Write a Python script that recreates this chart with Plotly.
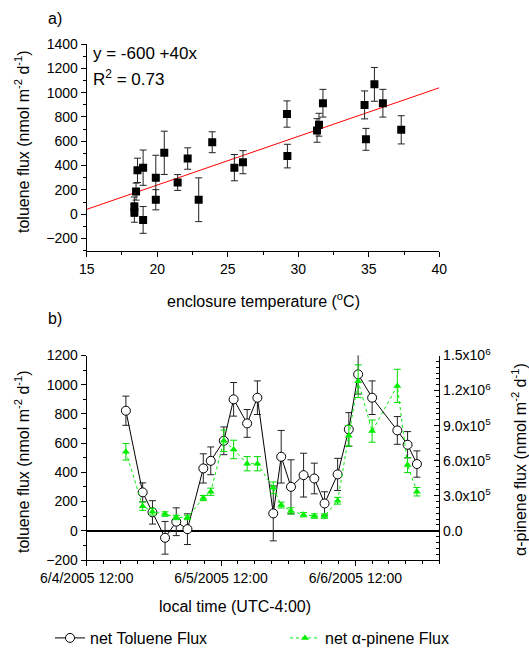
import plotly.graph_objects as go

# ---------------- Panel a) data ----------------
temp_c = [18.38, 18.38, 18.5, 18.6, 19.0, 19.0, 19.9, 19.9, 20.5, 21.45, 22.16, 22.94,
          23.9, 25.47, 26.08, 29.2, 29.23, 31.33, 31.47, 31.75, 34.7, 34.8, 35.4, 36.0, 37.3]
tol_flux_a = [62, 14, 186, 361, 383, -47, 300, 119, 505, 261, 458, 119,
              592, 383, 428, 824, 478, 689, 736, 913, 899, 616, 1068, 913, 694]
tol_err_a = [80, 80, 70, 100, 145, 110, 185, 83, 178, 65, 88, 180,
             86, 108, 95, 108, 97, 97, 94, 114, 115, 90, 139, 114, 116]
fit_intercept = -560
fit_slope = 40
fit_x_range = [15, 40]
fit_label = "y = -600 +40x"
r2_label = "R<sup>2</sup> = 0.73"

# ---------------- Panel b) data ----------------
times = ["2005-06-04 19:00", "2005-06-04 22:00", "2005-06-04 23:45", "2005-06-05 02:00",
         "2005-06-05 04:00", "2005-06-05 06:00", "2005-06-05 08:50", "2005-06-05 10:10",
         "2005-06-05 12:30", "2005-06-05 14:15", "2005-06-05 16:40", "2005-06-05 18:30",
         "2005-06-05 21:20", "2005-06-05 22:45", "2005-06-06 00:30", "2005-06-06 02:45",
         "2005-06-06 04:40", "2005-06-06 06:30", "2005-06-06 08:50", "2005-06-06 10:50",
         "2005-06-06 12:30", "2005-06-06 15:00", "2005-06-06 19:30", "2005-06-06 21:20",
         "2005-06-06 23:00"]
toluene = [822, 263, 126, -48, 62, 11, 427, 479, 616, 900, 735, 911, 119,
           507, 301, 381, 358, 187, 386, 694, 1071, 911, 687, 589, 457]
toluene_err = [100, 65, 80, 112, 95, 105, 100, 95, 95, 115, 95, 115, 188,
               180, 185, 150, 105, 80, 110, 115, 135, 115, 95, 90, 90]
pinene = [6.76e5, 2.11e5, 1.63e5, 1.43e5, 1.14e5, 1.14e5, 2.80e5, 3.34e5, 7.70e5,
          6.96e5, 5.74e5, 5.74e5, 3.68e5, 2.20e5, 1.70e5, 1.38e5, 1.26e5, 1.26e5,
          2.57e5, 8.13e5, 1.28e6, 8.53e5, 1.24e6, 5.62e5, 3.34e5]
pinene_err = [7.1e4, 3.6e4, 2.9e4, 1.9e4, 1.9e4, 1.9e4, 2.2e4, 3.1e4, 9.2e4,
              7.9e4, 6.1e4, 6.1e4, 5.0e4, 2.5e4, 2.7e4, 1.9e4, 1.9e4, 1.9e4,
              2.9e4, 8.9e4, 1.4e5, 9.5e4, 1.42e5, 6.4e4, 3.6e4]
time_tick_vals = ["2005-06-04 12:00", "2005-06-05 12:00", "2005-06-06 12:00"]
time_tick_text = ["6/4/2005 12:00", "6/5/2005 12:00", "6/6/2005 12:00"]
time_range = ["2005-06-04 12:00", "2005-06-07 03:00"]
pin_tick_vals = [0, 3e5, 6e5, 9e5, 1.2e6, 1.5e6]
pin_tick_text = ["0.0", "3.0x10<sup>5</sup>", "6.0x10<sup>5</sup>", "9.0x10<sup>5</sup>",
                 "1.2x10<sup>6</sup>", "1.5x10<sup>6</sup>"]

FONT = "Liberation Sans, Arial, sans-serif"
W, H = 529, 648

def px_x(p):
    return p / W

def px_y(p):
    return 1 - p / H

fig = go.Figure()

# panel a
fig.add_trace(go.Scatter(
    x=fit_x_range, y=[fit_intercept + fit_slope * v for v in fit_x_range],
    mode="lines", line=dict(color="#ff0000", width=1), showlegend=False,
    xaxis="x", yaxis="y"))
fig.add_trace(go.Scatter(
    x=temp_c, y=tol_flux_a, mode="markers",
    marker=dict(symbol="square", size=8, color="black"),
    error_y=dict(type="data", array=tol_err_a, color="#222", thickness=1, width=3.5),
    showlegend=False, xaxis="x", yaxis="y"))

# panel b
fig.add_trace(go.Scatter(
    x=times, y=toluene, mode="lines+markers", name="net Toluene Flux",
    line=dict(color="black", width=1),
    marker=dict(symbol="circle", size=9, color="white", line=dict(color="black", width=1)),
    error_y=dict(type="data", array=toluene_err, color="#222", thickness=1, width=3.5),
    xaxis="x2", yaxis="y2"))
fig.add_trace(go.Scatter(
    x=times, y=pinene, mode="lines+markers", name="net \u03b1-pinene Flux",
    line=dict(color="#00ee00", width=1, dash="dot"),
    marker=dict(symbol="triangle-up", size=7, color="#00ee00"),
    error_y=dict(type="data", array=pinene_err, color="#00dd00", thickness=1, width=3.5),
    xaxis="x2", yaxis="y3"))

dom_x = [px_x(86.7), px_x(439.3)]
tickfont = dict(family=FONT, size=14, color="black")
common = dict(showline=True, linecolor="black", linewidth=1, showgrid=False,
              zeroline=False, ticks="outside", ticklen=5, tickcolor="black",
              tickfont=tickfont, automargin=False)

fig.update_layout(
    width=W, height=H, autosize=False,
    margin=dict(l=0, r=0, t=0, b=0, pad=0, autoexpand=False),
    paper_bgcolor="white", plot_bgcolor="white",
    font=dict(family=FONT, color="black"),
    xaxis=dict(domain=dom_x, anchor="y", range=[15, 40], tickvals=[15, 20, 25, 30, 35, 40],
               minor=dict(dtick=2.5, ticks="outside", ticklen=3, tickcolor="black"),
               **common),
    yaxis=dict(domain=[px_y(250.7), px_y(44)], anchor="x", range=[-300, 1400],
               tickvals=[-200, 0, 200, 400, 600, 800, 1000, 1200, 1400],
               minor=dict(dtick=100, tick0=0, ticks="outside", ticklen=3, tickcolor="black"),
               **common),
    xaxis2=dict(domain=dom_x, anchor="y2", type="date", range=time_range,
                tickvals=time_tick_vals, ticktext=time_tick_text,
                minor=dict(dtick=3 * 3600 * 1000, tick0="2005-06-04 12:00", ticks="outside",
                           ticklen=3, tickcolor="black"),
                **common),
    yaxis2=dict(domain=[px_y(560), px_y(355.5)], anchor="x2", range=[-200, 1200],
                tickvals=[-200, 0, 200, 400, 600, 800, 1000, 1200],
                minor=dict(dtick=100, tick0=0, ticks="outside", ticklen=3, tickcolor="black"),
                showline=True, linecolor="black", linewidth=1, showgrid=False,
                zeroline=True, zerolinecolor="black", zerolinewidth=1.5,
                ticks="outside", ticklen=5, tickcolor="black", tickfont=tickfont,
                automargin=False),
    yaxis3=dict(overlaying="y2", side="right", anchor="x2", range=[-2.5e5, 1.5e6],
                tickvals=pin_tick_vals, ticktext=pin_tick_text,
                minor=dict(dtick=5e4, tick0=0, ticks="inside", ticklen=3, tickcolor="black"),
                showline=True, linecolor="black", linewidth=1, showgrid=False,
                zeroline=False, ticks="inside", ticklen=5, tickcolor="black",
                tickfont=tickfont, automargin=False),
    legend=dict(orientation="h", x=px_x(50), y=px_y(638), xanchor="left", yanchor="middle",
                font=dict(family=FONT, size=16, color="black"),
                entrywidth=190, entrywidthmode="pixels", bgcolor="rgba(0,0,0,0)"),
)

ann = []
def text(x, y, s, size=16, xanchor="center", yanchor="middle", angle=0):
    ann.append(dict(x=px_x(x), y=px_y(y), xref="paper", yref="paper", text=s,
                    showarrow=False, xanchor=xanchor, yanchor=yanchor, textangle=angle,
                    font=dict(family=FONT, size=size, color="black")))

text(46, 18, "a)", 16, xanchor="left")
text(46, 318, "b)", 16, xanchor="left")
text(91, 53, fit_label, 17, xanchor="left")
text(91, 78, r2_label, 17, xanchor="left")
text(22, 142, "toluene flux (nmol m<sup>-2</sup> d<sup>-1</sup>)", 16, angle=-90)
text(22, 462, "toluene flux (nmol m<sup>-2</sup> d<sup>-1</sup>)", 16, angle=-90)
text(519, 460, "\u03b1-pinene flux (nmol m<sup>-2</sup> d<sup>-1</sup>)", 16, angle=-90)
text(263, 300, "enclosure temperature (<sup>o</sup>C)", 16)
text(235, 606, "local time (UTC-4:00)", 16)
fig.update_layout(annotations=ann)

fig.write_html("out.html",
               config={"displayModeBar": False},
               post_script="document.body.style.margin='0';"
                           "document.body.style.overflow='hidden';")
